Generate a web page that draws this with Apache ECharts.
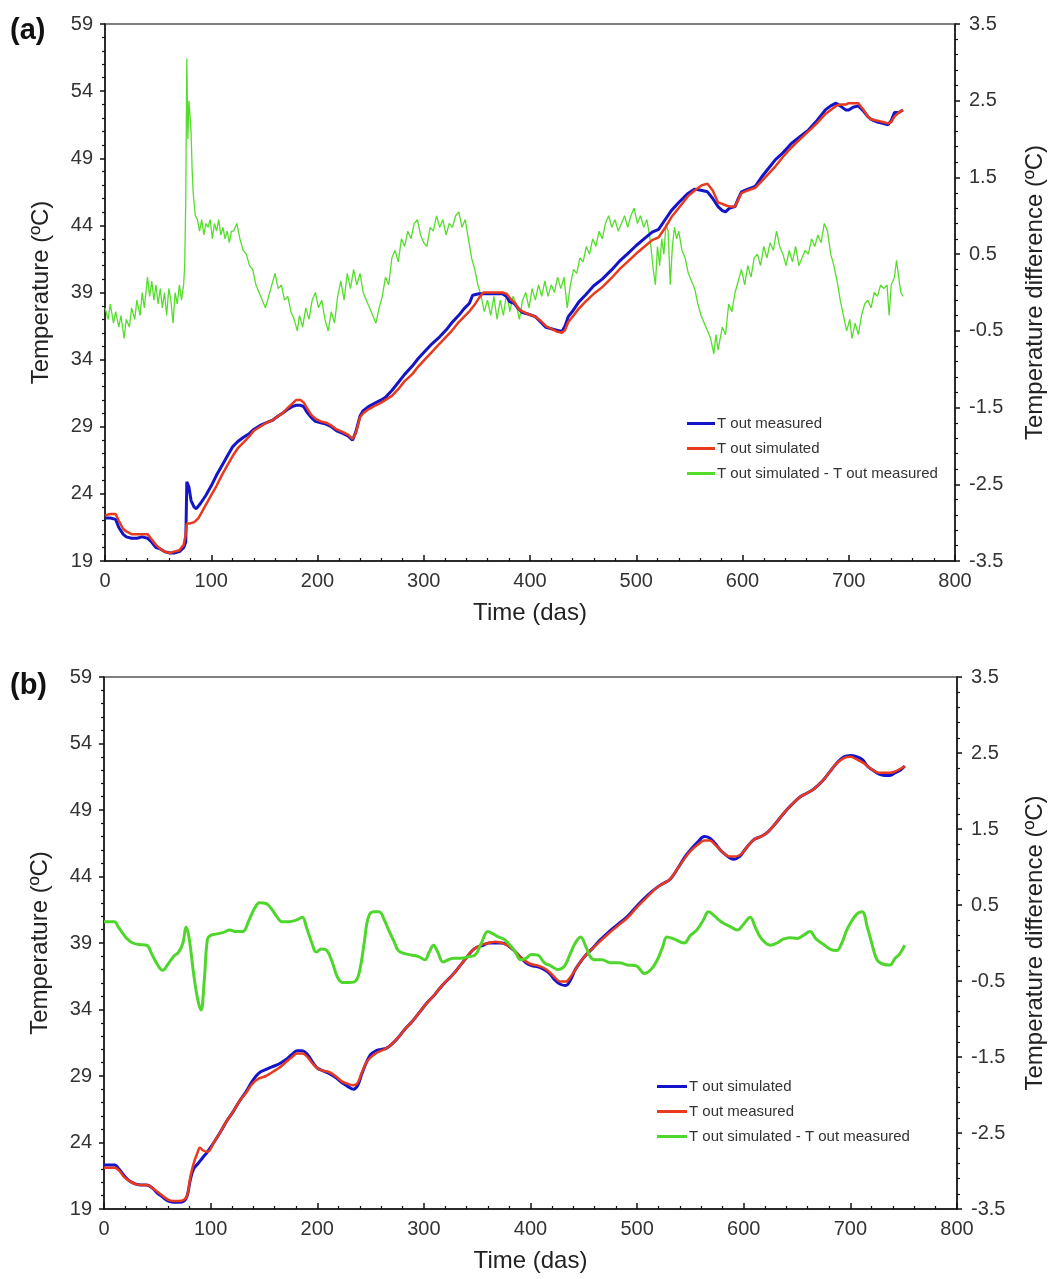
<!DOCTYPE html>
<html>
<head>
<meta charset="utf-8">
<script src="https://cdn.jsdelivr.net/npm/echarts@6/dist/echarts.min.js"></script>
<style>
html,body{margin:0;padding:0;background:#fff;}
#chart{width:1055px;height:1279px;}
</style>
</head>
<body>
<div id="chart"></div>
<script>
// ---------- Panel (a) ----------
const aMeasured = [[0,22.2],[5,22.2],[10,22.1],[13,21.5],[17,21.0],[20,20.8],[25,20.7],[30,20.7],[35,20.8],[40,20.7],[44,20.4],[48,20.0],[52,19.9],[56,19.7],[61,19.6],[65,19.6],[70,19.7],[74,20.0],[76,20.4],[77,24.9],[79,24.5],[81,23.5],[84,23.0],[86,22.9],[90,23.3],[95,23.9],[100,24.6],[105,25.4],[110,26.1],[115,26.8],[120,27.5],[125,27.9],[130,28.2],[136,28.5],[140,28.8],[146,29.1],[152,29.3],[158,29.5],[163,29.8],[167,30.0],[172,30.3],[176,30.5],[180,30.6],[184,30.6],[187,30.5],[190,30.1],[194,29.7],[198,29.4],[203,29.3],[208,29.2],[213,29.0],[218,28.7],[224,28.5],[229,28.3],[233,28.0],[236,28.6],[240,29.8],[243,30.2],[248,30.5],[255,30.8],[260,31.0],[264,31.2],[270,31.7],[276,32.3],[282,32.9],[289,33.5],[295,34.1],[302,34.7],[308,35.2],[315,35.7],[321,36.2],[327,36.8],[333,37.3],[338,37.8],[343,38.2],[346,38.8],[352,38.9],[360,38.9],[368,38.9],[374,38.9],[378,38.7],[381,38.3],[385,38.2],[389,37.8],[393,37.5],[398,37.4],[405,37.2],[410,36.8],[415,36.4],[420,36.3],[425,36.2],[430,36.1],[433,36.5],[436,37.2],[440,37.6],[446,38.3],[452,38.8],[460,39.5],[468,40.0],[477,40.7],[485,41.4],[492,41.9],[500,42.5],[509,43.1],[515,43.5],[521,43.7],[527,44.4],[533,45.1],[540,45.7],[545,46.1],[549,46.4],[555,46.7],[562,46.6],[567,46.5],[572,46.0],[577,45.4],[581,45.1],[584,45.0],[588,45.3],[593,45.4],[596,46.0],[599,46.5],[605,46.7],[612,46.9],[618,47.6],[624,48.2],[631,48.9],[638,49.4],[646,50.1],[654,50.6],[662,51.1],[670,51.8],[678,52.6],[683,52.9],[688,53.1],[692,52.9],[697,52.6],[700,52.6],[704,52.8],[709,52.9],[714,52.5],[718,52.1],[721,51.9],[727,51.7],[732,51.6],[737,51.5],[740,51.8],[743,52.4],[747,52.4],[751,52.6]];
const aSimulated = [[0,22.4],[5,22.5],[10,22.5],[13,22.0],[17,21.4],[20,21.2],[25,21.0],[30,21.0],[35,21.0],[40,21.0],[44,20.6],[48,20.2],[52,19.9],[56,19.7],[61,19.6],[65,19.7],[70,19.8],[74,20.2],[76,21.0],[77,21.8],[80,21.8],[84,21.9],[88,22.2],[95,23.2],[100,23.9],[105,24.6],[110,25.4],[115,26.1],[120,26.8],[125,27.4],[130,27.8],[136,28.3],[140,28.7],[146,29.0],[152,29.3],[158,29.5],[163,29.8],[167,30.0],[172,30.4],[176,30.7],[180,31.0],[184,31.0],[187,30.8],[190,30.4],[194,29.9],[198,29.6],[203,29.4],[208,29.3],[213,29.1],[218,28.8],[224,28.6],[229,28.4],[233,28.1],[236,28.5],[240,29.7],[243,30.0],[248,30.3],[255,30.6],[260,30.8],[264,31.0],[270,31.3],[276,31.8],[282,32.4],[289,32.9],[295,33.5],[302,34.1],[308,34.6],[315,35.2],[321,35.7],[327,36.2],[333,36.8],[338,37.2],[343,37.6],[348,38.1],[352,38.6],[356,39.0],[362,39.0],[368,39.0],[374,39.0],[378,38.9],[382,38.5],[386,38.2],[390,37.7],[393,37.6],[398,37.4],[405,37.2],[410,36.9],[415,36.5],[420,36.3],[425,36.1],[430,36.0],[433,36.2],[436,36.8],[440,37.2],[446,37.8],[452,38.3],[460,38.9],[468,39.4],[477,40.1],[485,40.8],[492,41.3],[500,41.9],[509,42.5],[515,42.9],[521,43.1],[527,43.8],[533,44.6],[540,45.3],[545,45.8],[549,46.2],[555,46.6],[562,47.0],[567,47.1],[572,46.6],[577,45.7],[581,45.6],[584,45.5],[588,45.4],[593,45.4],[596,45.9],[599,46.4],[605,46.6],[612,46.8],[618,47.3],[624,47.8],[631,48.4],[638,49.1],[646,49.8],[654,50.4],[662,51.0],[670,51.6],[678,52.3],[683,52.6],[688,52.9],[692,53.0],[697,53.0],[700,53.1],[704,53.1],[709,53.1],[714,52.6],[718,52.1],[721,51.9],[727,51.8],[732,51.7],[737,51.6],[740,51.7],[743,52.1],[747,52.4],[751,52.6]];
const aDifference = [[0,-0.2],[3,-0.35],[5,-0.15],[8,-0.4],[10,-0.25],[13,-0.45],[15,-0.3],[18,-0.6],[20,-0.35],[23,-0.45],[25,-0.2],[28,-0.35],[30,-0.1],[33,-0.3],[35,0.0],[37,-0.2],[40,0.2],[42,-0.05],[44,0.15],[46,-0.1],[48,0.1],[50,-0.15],[52,0.05],[54,-0.2],[56,0.0],[58,-0.3],[60,0.05],[62,-0.1],[64,-0.4],[66,0.0],[68,-0.15],[70,0.1],[72,-0.1],[74,0.1],[75,0.35],[76,1.2],[77,3.05],[78,2.0],[79,2.5],[80,2.3],[81,2.1],[82,1.6],[83,1.3],[85,1.0],[87,0.95],[89,0.8],[91,0.95],[93,0.75],[95,0.9],[97,0.85],[99,0.95],[101,0.7],[103,0.9],[105,0.8],[107,0.95],[109,0.75],[111,0.85],[113,0.7],[115,0.8],[117,0.65],[119,0.8],[121,0.8],[124,0.9],[127,0.7],[130,0.55],[133,0.5],[136,0.35],[139,0.3],[142,0.1],[145,0.0],[148,-0.1],[151,-0.2],[154,-0.05],[157,0.1],[160,0.25],[163,0.05],[166,0.1],[169,-0.1],[172,-0.05],[175,-0.25],[178,-0.35],[181,-0.5],[183,-0.3],[186,-0.45],[189,-0.2],[192,-0.35],[195,-0.1],[198,0.0],[201,-0.2],[204,-0.1],[207,-0.35],[210,-0.5],[213,-0.25],[216,-0.4],[219,-0.05],[222,0.15],[225,-0.1],[228,0.25],[231,0.05],[234,0.3],[237,0.1],[240,0.25],[243,0.0],[246,-0.1],[249,-0.2],[252,-0.3],[255,-0.4],[258,-0.2],[261,-0.05],[264,0.2],[267,0.1],[270,0.45],[273,0.55],[276,0.4],[279,0.7],[282,0.6],[285,0.8],[288,0.7],[291,0.9],[294,0.95],[297,0.75],[300,0.65],[303,0.6],[306,0.85],[309,0.8],[312,1.0],[315,0.85],[318,0.95],[321,0.75],[324,0.9],[327,0.85],[330,1.0],[333,1.05],[336,0.85],[339,0.95],[342,0.7],[345,0.45],[348,0.3],[351,0.1],[354,-0.05],[357,-0.25],[360,-0.1],[363,-0.3],[366,-0.05],[369,-0.35],[372,-0.1],[375,-0.3],[378,0.0],[381,-0.25],[384,-0.05],[387,-0.15],[390,-0.35],[393,-0.1],[396,0.0],[399,-0.2],[402,0.05],[405,-0.1],[408,0.1],[411,-0.05],[414,0.15],[417,-0.05],[420,0.1],[423,0.0],[426,0.2],[429,0.05],[432,0.2],[435,-0.2],[438,0.1],[441,0.3],[444,0.25],[447,0.45],[450,0.4],[453,0.6],[456,0.5],[459,0.7],[462,0.6],[465,0.8],[468,0.7],[471,0.9],[474,1.0],[477,0.85],[480,0.95],[483,0.8],[486,0.9],[489,1.0],[492,0.85],[495,1.0],[498,1.1],[501,0.9],[504,1.0],[507,0.85],[510,0.95],[513,0.7],[516,0.3],[518,0.1],[520,0.6],[522,0.35],[524,0.7],[526,0.5],[528,0.9],[530,0.8],[532,0.1],[534,0.6],[536,0.85],[538,0.7],[540,0.8],[543,0.55],[546,0.45],[549,0.25],[552,0.15],[555,0.05],[558,-0.15],[561,-0.3],[564,-0.4],[567,-0.5],[570,-0.6],[573,-0.8],[575,-0.55],[577,-0.75],[579,-0.6],[581,-0.45],[584,-0.55],[587,-0.15],[590,-0.25],[593,0.0],[596,0.15],[599,0.3],[602,0.1],[605,0.35],[608,0.2],[611,0.45],[614,0.5],[617,0.35],[620,0.6],[623,0.45],[626,0.65],[629,0.55],[632,0.8],[635,0.6],[638,0.5],[641,0.35],[644,0.55],[647,0.4],[650,0.6],[653,0.35],[656,0.45],[659,0.55],[662,0.5],[665,0.7],[668,0.6],[671,0.75],[674,0.65],[677,0.9],[680,0.8],[683,0.5],[686,0.35],[689,0.15],[692,-0.1],[695,-0.3],[698,-0.5],[701,-0.35],[703,-0.6],[706,-0.4],[709,-0.55],[712,-0.3],[715,-0.15],[718,-0.1],[721,-0.2],[724,0.0],[727,-0.05],[730,0.1],[733,0.05],[736,0.1],[738,-0.3],[740,0.1],[743,0.2],[745,0.42],[747,0.2],[749,0.0],[751,-0.05]];

// ---------- Panel (b) ----------
const bSimulated = [[0,22.3],[5,22.3],[10,22.3],[14,22.0],[19,21.5],[24,21.1],[29,20.9],[35,20.8],[40,20.8],[45,20.6],[50,20.2],[55,19.9],[60,19.6],[65,19.5],[70,19.5],[75,19.6],[78,20.0],[81,21.2],[84,22.0],[88,22.4],[92,22.8],[97,23.3],[103,24.0],[110,24.9],[115,25.6],[121,26.3],[127,27.1],[133,27.8],[139,28.6],[145,29.2],[152,29.5],[158,29.7],[164,29.9],[170,30.2],[176,30.6],[181,30.9],[186,30.9],[191,30.6],[196,30.0],[200,29.6],[205,29.4],[211,29.2],[217,28.9],[223,28.5],[229,28.2],[234,28.0],[238,28.3],[242,29.2],[246,30.0],[250,30.6],[255,30.9],[260,31.0],[265,31.1],[270,31.4],[276,31.9],[282,32.5],[289,33.1],[296,33.8],[303,34.5],[310,35.1],[316,35.7],[322,36.2],[328,36.7],[334,37.3],[340,37.9],[345,38.4],[350,38.7],[355,38.8],[361,39.0],[367,39.0],[373,39.0],[379,38.8],[385,38.4],[391,37.9],[396,37.5],[401,37.3],[407,37.2],[413,37.0],[418,36.7],[423,36.2],[428,35.9],[433,35.8],[438,36.3],[442,37.0],[447,37.6],[452,38.1],[457,38.5],[465,39.2],[473,39.8],[482,40.4],[491,41.0],[500,41.8],[510,42.6],[519,43.2],[525,43.5],[531,43.8],[538,44.6],[545,45.5],[550,46.0],[557,46.6],[563,47.0],[568,46.9],[573,46.5],[578,46.0],[582,45.7],[587,45.4],[591,45.3],[596,45.5],[600,45.9],[605,46.4],[610,46.8],[616,47.0],[622,47.3],[630,48.0],[638,48.8],[645,49.4],[653,50.0],[660,50.3],[666,50.6],[674,51.2],[681,51.9],[687,52.5],[694,53.0],[700,53.1],[706,53.0],[711,52.8],[716,52.3],[721,52.0],[727,51.7],[732,51.6],[737,51.6],[742,51.8],[747,52.0],[751,52.3]];
const bMeasured = [[0,22.1],[5,22.1],[10,22.1],[14,21.9],[19,21.4],[24,21.1],[29,20.9],[35,20.8],[40,20.8],[45,20.6],[50,20.3],[55,20.0],[60,19.7],[65,19.6],[70,19.6],[75,19.7],[78,20.0],[81,21.4],[84,22.4],[88,23.3],[90,23.6],[93,23.4],[97,23.3],[103,24.0],[110,24.9],[115,25.6],[121,26.3],[127,27.1],[133,27.7],[139,28.4],[145,28.8],[152,29.0],[158,29.3],[164,29.6],[170,30.0],[176,30.4],[181,30.7],[186,30.7],[191,30.4],[196,29.9],[200,29.6],[205,29.4],[211,29.3],[217,29.0],[223,28.6],[229,28.4],[234,28.3],[238,28.5],[242,29.3],[246,30.0],[250,30.4],[255,30.7],[260,30.9],[265,31.1],[270,31.4],[276,31.9],[282,32.5],[289,33.1],[296,33.8],[303,34.5],[310,35.1],[316,35.7],[322,36.2],[328,36.7],[334,37.3],[340,37.9],[345,38.4],[350,38.7],[355,38.9],[361,39.0],[367,39.1],[373,39.0],[379,38.8],[385,38.4],[391,37.9],[396,37.6],[401,37.4],[407,37.3],[413,37.1],[418,36.8],[423,36.4],[428,36.1],[433,36.1],[438,36.5],[442,37.0],[447,37.6],[452,38.1],[457,38.5],[465,39.1],[473,39.7],[482,40.3],[491,40.9],[500,41.7],[510,42.5],[519,43.2],[525,43.5],[531,43.8],[538,44.6],[545,45.4],[550,45.9],[557,46.4],[563,46.7],[568,46.7],[573,46.4],[578,46.0],[582,45.7],[587,45.5],[591,45.5],[596,45.6],[600,45.9],[605,46.4],[610,46.8],[616,47.0],[622,47.3],[630,48.0],[638,48.8],[645,49.4],[653,50.0],[660,50.3],[666,50.6],[674,51.2],[681,51.9],[687,52.5],[694,52.9],[700,53.0],[706,52.8],[711,52.6],[716,52.3],[721,52.0],[727,51.8],[732,51.8],[737,51.8],[742,51.9],[747,52.1],[751,52.3]];
const bDifference = [[0,0.28],[5,0.28],[10,0.28],[13,0.22],[18,0.12],[22,0.05],[27,0.0],[33,-0.02],[40,-0.03],[45,-0.15],[50,-0.28],[55,-0.36],[60,-0.28],[65,-0.18],[70,-0.12],[74,0.0],[77,0.21],[80,0.05],[84,-0.4],[88,-0.75],[91,-0.88],[94,-0.5],[97,0.05],[100,0.1],[106,0.12],[112,0.14],[118,0.17],[124,0.15],[130,0.15],[136,0.3],[141,0.45],[146,0.53],[152,0.52],[157,0.45],[162,0.35],[167,0.28],[173,0.28],[180,0.3],[186,0.34],[190,0.2],[195,0.0],[199,-0.12],[204,-0.08],[209,-0.1],[214,-0.25],[219,-0.45],[224,-0.52],[230,-0.52],[236,-0.5],[240,-0.35],[244,0.0],[248,0.34],[253,0.41],[258,0.41],[263,0.3],[267,0.17],[272,0.02],[276,-0.1],[282,-0.14],[289,-0.16],[295,-0.18],[301,-0.22],[305,-0.12],[309,-0.03],[313,-0.12],[318,-0.25],[323,-0.22],[328,-0.2],[335,-0.2],[342,-0.18],[348,-0.16],[354,0.0],[360,0.15],[365,0.12],[370,0.08],[375,0.05],[379,0.0],[385,-0.1],[391,-0.22],[396,-0.2],[401,-0.15],[407,-0.16],[413,-0.26],[419,-0.3],[426,-0.35],[432,-0.3],[437,-0.15],[442,0.0],[447,0.08],[452,-0.05],[456,-0.18],[460,-0.22],[467,-0.22],[475,-0.26],[483,-0.26],[491,-0.29],[499,-0.3],[507,-0.4],[513,-0.35],[519,-0.22],[524,-0.05],[528,0.08],[535,0.05],[544,0.0],[550,0.1],[556,0.17],[562,0.3],[567,0.41],[573,0.35],[577,0.3],[581,0.26],[587,0.22],[594,0.17],[600,0.25],[606,0.34],[611,0.2],[617,0.05],[625,-0.03],[631,0.0],[637,0.05],[643,0.07],[650,0.06],[656,0.1],[662,0.15],[668,0.05],[675,-0.02],[681,-0.08],[687,-0.1],[692,0.0],[696,0.15],[700,0.26],[706,0.38],[711,0.41],[716,0.2],[720,0.0],[725,-0.22],[731,-0.28],[737,-0.29],[742,-0.2],[746,-0.15],[751,-0.03]];

// ---------- Labels ----------
const panelLabels = ['(a)', '(b)'];
const xTitle = 'Time (das)';
const yLeftTitle = 'Temperature (ºC)';
const yRightTitle = 'Temperature difference (ºC)';
const legendA = ['T out measured', 'T out simulated', 'T out simulated - T out measured'];
const legendB = ['T out simulated', 'T out measured', 'T out simulated - T out measured'];

const FONT = "'Liberation Sans', Arial, sans-serif";
const BLUE = '#1414c8', RED = '#e83a1e', GREEN_A = '#55dd2c', GREEN_B = '#4fd62c';

function xAxisDef(gi) {
  return {
    type: 'value', gridIndex: gi, min: 0, max: 800, interval: 100, position: 'bottom',
    name: xTitle, nameLocation: 'middle', nameGap: 40,
    nameTextStyle: {fontFamily: FONT, fontSize: 24, color: '#222'},
    axisLine: {onZero: false, lineStyle: {color: '#111', width: 1.5}},
    axisTick: {inside: true, length: 6, lineStyle: {color: '#111', width: 1.5}},
    minorTick: {show: true, splitNumber: 5, length: 3, lineStyle: {color: '#111', width: 1.2}},
    axisLabel: {fontFamily: FONT, fontSize: 20, color: '#333', margin: 10},
    splitLine: {show: false}
  };
}
function yLeftDef(gi, gap) {
  return {
    type: 'value', gridIndex: gi, position: 'left', min: 19, max: 59, interval: 5,
    name: yLeftTitle, nameLocation: 'middle', nameGap: gap, nameRotate: 90,
    nameTextStyle: {fontFamily: FONT, fontSize: 24, color: '#222'},
    axisLine: {show: true, onZero: false, lineStyle: {color: '#111', width: 1.5}},
    axisTick: {show: true, inside: false, length: 5, lineStyle: {color: '#111', width: 1.5}},
    minorTick: {show: true, splitNumber: 5, length: 3, lineStyle: {color: '#111', width: 1.2}},
    axisLabel: {fontFamily: FONT, fontSize: 20, color: '#333', margin: 12},
    splitLine: {show: false}
  };
}
function yRightDef(gi, gap) {
  return {
    type: 'value', gridIndex: gi, position: 'right', min: -3.5, max: 3.5, interval: 1,
    name: yRightTitle, nameLocation: 'middle', nameGap: gap, nameRotate: 90,
    nameTextStyle: {fontFamily: FONT, fontSize: 24, color: '#222'},
    axisLine: {show: true, onZero: false, lineStyle: {color: '#111', width: 1.5}},
    axisTick: {show: true, inside: false, length: 5, lineStyle: {color: '#111', width: 1.5}},
    minorTick: {show: true, splitNumber: 5, length: 3, lineStyle: {color: '#111', width: 1.2}},
    axisLabel: {fontFamily: FONT, fontSize: 20, color: '#333', margin: 14},
    splitLine: {show: false}
  };
}
function lineSeries(name, data, xi, yi, color, width, smooth, z) {
  return {
    type: 'line', name: name, data: data, xAxisIndex: xi, yAxisIndex: yi,
    symbol: 'none', smooth: smooth, z: z, animation: false,
    lineStyle: {color: color, width: width}, itemStyle: {color: color}
  };
}

const chart = echarts.init(document.getElementById('chart'), null, {renderer: 'canvas'});
const stripPrefix = n => n.replace(/^[ab]: /, '');

chart.setOption({
  backgroundColor: '#fff',
  animation: false,
  textStyle: {fontFamily: FONT},
  grid: [
    {left: 105, top: 24, width: 852, height: 537, show: true, borderColor: '#555', borderWidth: 1.5},
    {left: 104, top: 677, width: 857, height: 532, show: true, borderColor: '#555', borderWidth: 1.5}
  ],
  xAxis: [xAxisDef(0), xAxisDef(1)],
  yAxis: [yLeftDef(0, 52), yRightDef(0, 68), yLeftDef(1, 52), yRightDef(1, 66)],
  legend: [
    {orient: 'vertical', left: 682, top: 411, itemWidth: 28, itemHeight: 3, itemGap: 10, icon: 'rect',
     data: legendA.map(n => 'a: ' + n), formatter: stripPrefix,
     textStyle: {fontFamily: FONT, fontSize: 15, color: '#333', padding: [0, 0, 0, -3]}},
    {orient: 'vertical', left: 652, top: 1074, itemWidth: 30, itemHeight: 3, itemGap: 10, icon: 'rect',
     data: legendB.map(n => 'b: ' + n), formatter: stripPrefix,
     textStyle: {fontFamily: FONT, fontSize: 15, color: '#333', padding: [0, 0, 0, -3]}}
  ],
  graphic: [
    {type: 'text', left: 10, top: 16, style: {text: panelLabels[0], font: "bold 29px " + FONT, fill: '#111'}},
    {type: 'text', left: 10, top: 671, style: {text: panelLabels[1], font: "bold 29px " + FONT, fill: '#111'}}
  ],
  series: [
    lineSeries('a: ' + legendA[2], aDifference, 0, 1, GREEN_A, 1.3, false, 2),
    lineSeries('a: ' + legendA[0], aMeasured, 0, 0, BLUE, 3, false, 3),
    lineSeries('a: ' + legendA[1], aSimulated, 0, 0, RED, 2.5, false, 4),
    lineSeries('b: ' + legendB[0], bSimulated, 1, 2, BLUE, 3, 0.4, 3),
    lineSeries('b: ' + legendB[1], bMeasured, 1, 2, RED, 2.5, 0.4, 4),
    lineSeries('b: ' + legendB[2], bDifference, 1, 3, GREEN_B, 3, 0.4, 5)
  ]
});
</script>
</body>
</html>
